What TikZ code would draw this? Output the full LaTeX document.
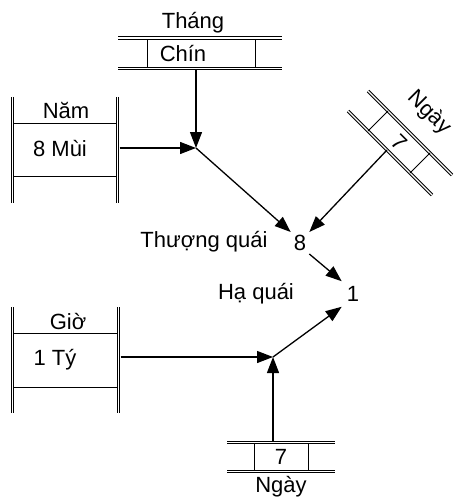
\documentclass[tikz,border=0pt]{standalone}
\usepackage{fontspec}
\setmainfont{Liberation Sans}
\usetikzlibrary{arrows.meta}
\begin{document}
\begin{tikzpicture}[x=1pt,y=-1pt,
  dbl/.style={draw=black,line width=1pt,double=white,double distance=1.4pt},
  thinln/.style={draw=black,line width=0.9pt},
  lbl/.style={inner sep=0pt,font=\fontsize{22}{26}\selectfont},
  arr/.style={line width=1.3pt,-{Triangle[length=16pt,width=12pt]}}]
\useasboundingbox (0,0) rectangle (454,500);
% Thang
\node[lbl] (thang) at (193,23) {Tháng};
\draw[dbl] (118,38) -- (282,38);
\draw[dbl] (118,68.5) -- (282,68.5);
\draw[thinln] (147,39.5) -- (147,67);
\draw[thinln] (255,39.5) -- (255,67);
\node[lbl] (chin) at (183,54) {Chín};
\coordinate (thangout) at (196,70);
% Nam
\draw[dbl] (12.5,97) -- (12.5,203);
\draw[dbl] (117.5,97) -- (117.5,203);
\draw[thinln] (14,123) -- (116,123);
\draw[thinln] (14,176) -- (116,176);
\node[lbl] (nam) at (66,110) {Năm};
\node[lbl] (mui) at (60,149) {8 Mùi};
\coordinate (namout) at (119.5,148);
\coordinate (j1) at (196,148);
% Ngay rotated
\draw[dbl] (368,91) -- (452,175);
\draw[dbl] (348,111) -- (432,195);
\draw[thinln] (388,111) -- (368,131);
\draw[thinln] (430,153) -- (410,173);
\node[lbl,rotate=-45] (ngay1) at (429,113) {Ngày};
\node[lbl,rotate=-45] (seven1) at (399,142) {7};
\coordinate (ngayin) at (387,150);
% middle labels
\node[lbl] (thuong) at (204,242) {Thượng quái};
\node[lbl,inner sep=3pt] (eight) at (300,243) {8};
\node[lbl] (ha) at (256,294) {Hạ quái};
\node[lbl,inner sep=5pt] (one) at (353,294) {1};
% Gio
\draw[dbl] (12.5,307) -- (12.5,413);
\draw[dbl] (118.5,307) -- (118.5,413);
\draw[thinln] (14,333) -- (117,333);
\draw[thinln] (14,387) -- (117,387);
\node[lbl] (gio) at (68,322) {Giờ};
\node[lbl] (ty) at (55,360) {1 Tý};
\coordinate (gioout) at (120.5,357);
\coordinate (j2) at (273,357);
% bottom Ngay
\draw[dbl] (227,442.5) -- (335,442.5);
\draw[dbl] (227,471.5) -- (335,471.5);
\draw[thinln] (254,444) -- (254,470);
\draw[thinln] (308,444) -- (308,470);
\node[lbl] (seven2) at (281,457) {7};
\node[lbl] (ngay2) at (281,487) {Ngày};
\coordinate (ngay2out) at (273,441);
% connectors
\draw[arr] (thangout) -- (j1);
\draw[arr] (namout) -- (j1);
\draw[arr] (j1) -- (eight.north west);
\draw[arr] (ngayin) -- (eight.north east);
\draw[arr] (eight.south east) -- (one.north west);
\draw[arr] (gioout) -- (j2);
\draw[arr] (ngay2out) -- (j2);
\draw[arr] (j2) -- (one.south west);
\end{tikzpicture}
\end{document}
